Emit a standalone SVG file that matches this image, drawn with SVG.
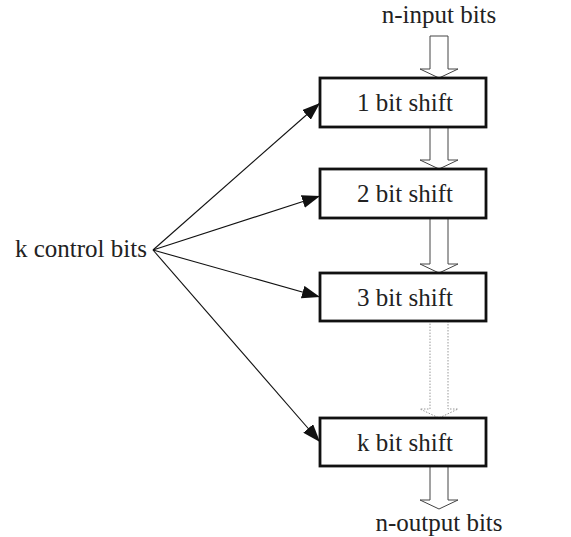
<svg xmlns="http://www.w3.org/2000/svg" width="571" height="537" viewBox="0 0 571 537">
<defs>
<style>
text{font-family:"Liberation Serif","Times New Roman",serif;font-size:25px;fill:#222}
.box{fill:#fff;stroke:#111;stroke-width:2.8}
.blk{fill:#fff;stroke:#444;stroke-width:1}
.dot{fill:#fff;stroke:#999;stroke-width:1;stroke-dasharray:1.5 1.5}
.ctl{stroke:#111;stroke-width:1.1;fill:none}
</style>
<marker id="ah" viewBox="0 0 18 13" refX="18" refY="6.5" markerWidth="18" markerHeight="13" markerUnits="userSpaceOnUse" orient="auto">
<path d="M0,0 L18,6.5 L0,13 Z" fill="#111"/>
</marker>
</defs>
<g id="connectors">
<path class="blk" d="M430,36 L448,36 L448,69 L458,69 L439,78 L420,69 L430,69 Z"/>
<path class="blk" d="M430,127 L448,127 L448,160 L458,160 L439,169 L420,160 L430,160 Z"/>
<path class="blk" d="M430,218 L448,218 L448,264 L458,264 L439,273 L420,264 L430,264 Z"/>
<path class="dot" d="M430,321 L448,321 L448,409 L458,409 L439,418 L420,409 L430,409 Z"/>
<path class="blk" d="M430,466 L448,466 L448,500 L458,500 L439,509 L420,500 L430,500 Z"/>
<line class="ctl" x1="153" y1="250" x2="320" y2="103" marker-end="url(#ah)"/>
<line class="ctl" x1="153" y1="250" x2="320" y2="196" marker-end="url(#ah)"/>
<line class="ctl" x1="153" y1="250" x2="320" y2="297" marker-end="url(#ah)"/>
<line class="ctl" x1="153" y1="250" x2="320" y2="442" marker-end="url(#ah)"/>
</g>
<g id="input"><text x="439" y="23" text-anchor="middle">n-input bits</text></g>
<g id="output"><text x="439" y="531" text-anchor="middle">n-output bits</text></g>
<g id="control"><text x="15" y="257">k control bits</text></g>
<g id="shift1"><rect class="box" x="320" y="78" width="166" height="49"/><text x="405" y="111" text-anchor="middle">1 bit shift</text></g>
<g id="shift2"><rect class="box" x="320" y="169" width="166" height="49"/><text x="405" y="202" text-anchor="middle">2 bit shift</text></g>
<g id="shift3"><rect class="box" x="320" y="273" width="166" height="48"/><text x="405" y="306" text-anchor="middle">3 bit shift</text></g>
<g id="shiftk"><rect class="box" x="320" y="418" width="166" height="48"/><text x="405" y="451" text-anchor="middle">k bit shift</text></g>
</svg>
